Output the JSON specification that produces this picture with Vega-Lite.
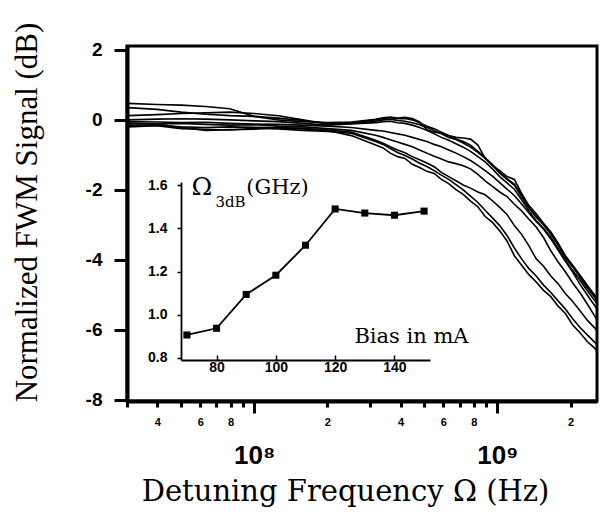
{
"$schema": "https://vega.github.io/schema/vega-lite/v6.json",
"width": 470, "height": 355,
"autosize": "none",
"padding": {"left": 127, "top": 46, "right": 5, "bottom": 115},
"background": "white",
"config": {"view": {"stroke": "black", "strokeWidth": 3}, "axis": {"grid": false, "domainColor": "black", "tickColor": "black", "labelColor": "black", "titleColor": "black"}},
"datasets": {
"curves": [
{"curve":"c1","freq":3.02e7,"db":-0.1},{"curve":"c1","freq":3.98e7,"db":-0.12},{"curve":"c1","freq":5.01e7,"db":-0.22},{"curve":"c1","freq":6.31e7,"db":-0.3},{"curve":"c1","freq":7.94e7,"db":-0.28},{"curve":"c1","freq":1.0e8,"db":-0.27},{"curve":"c1","freq":1.26e8,"db":-0.22},{"curve":"c1","freq":1.585e8,"db":-0.25},{"curve":"c1","freq":2.0e8,"db":-0.3},{"curve":"c1","freq":2.51e8,"db":-0.45},
{"curve":"c1","freq":3.16e8,"db":-0.72},{"curve":"c1","freq":3.39e8,"db":-0.8},{"curve":"c1","freq":3.63e8,"db":-0.95},{"curve":"c1","freq":3.89e8,"db":-1.05},{"curve":"c1","freq":4.17e8,"db":-1.1},{"curve":"c1","freq":4.47e8,"db":-1.27},{"curve":"c1","freq":4.79e8,"db":-1.36},{"curve":"c1","freq":5.13e8,"db":-1.47},{"curve":"c1","freq":5.5e8,"db":-1.53},{"curve":"c1","freq":5.89e8,"db":-1.7},
{"curve":"c1","freq":6.31e8,"db":-1.82},{"curve":"c1","freq":6.76e8,"db":-1.99},{"curve":"c1","freq":7.24e8,"db":-2.13},{"curve":"c1","freq":7.76e8,"db":-2.32},{"curve":"c1","freq":8.32e8,"db":-2.48},{"curve":"c1","freq":8.91e8,"db":-2.76},{"curve":"c1","freq":9.55e8,"db":-2.93},{"curve":"c1","freq":1.023e9,"db":-3.17},{"curve":"c1","freq":1.096e9,"db":-3.46},{"curve":"c1","freq":1.175e9,"db":-3.88},
{"curve":"c1","freq":1.259e9,"db":-4.15},{"curve":"c1","freq":1.349e9,"db":-4.42},{"curve":"c1","freq":1.445e9,"db":-4.63},{"curve":"c1","freq":1.549e9,"db":-4.87},{"curve":"c1","freq":1.66e9,"db":-5.05},{"curve":"c1","freq":1.778e9,"db":-5.32},{"curve":"c1","freq":1.905e9,"db":-5.53},{"curve":"c1","freq":2.042e9,"db":-5.86},{"curve":"c1","freq":2.188e9,"db":-6.08},{"curve":"c1","freq":2.344e9,"db":-6.33},{"curve":"c1","freq":2.512e9,"db":-6.52},{"curve":"c1","freq":2.57e9,"db":-6.62},
{"curve":"c2","freq":3.02e7,"db":-0.2},{"curve":"c2","freq":3.98e7,"db":-0.17},{"curve":"c2","freq":5.01e7,"db":-0.25},{"curve":"c2","freq":6.31e7,"db":-0.27},{"curve":"c2","freq":7.94e7,"db":-0.29},{"curve":"c2","freq":1.0e8,"db":-0.24},{"curve":"c2","freq":1.26e8,"db":-0.26},{"curve":"c2","freq":1.585e8,"db":-0.3},{"curve":"c2","freq":2.0e8,"db":-0.33},{"curve":"c2","freq":2.51e8,"db":-0.38},
{"curve":"c2","freq":3.16e8,"db":-0.62},{"curve":"c2","freq":3.39e8,"db":-0.7},{"curve":"c2","freq":3.63e8,"db":-0.82},{"curve":"c2","freq":3.89e8,"db":-0.93},{"curve":"c2","freq":4.17e8,"db":-1.02},{"curve":"c2","freq":4.47e8,"db":-1.12},{"curve":"c2","freq":4.79e8,"db":-1.24},{"curve":"c2","freq":5.13e8,"db":-1.33},{"curve":"c2","freq":5.5e8,"db":-1.45},{"curve":"c2","freq":5.89e8,"db":-1.58},
{"curve":"c2","freq":6.31e8,"db":-1.7},{"curve":"c2","freq":6.76e8,"db":-1.85},{"curve":"c2","freq":7.24e8,"db":-2.0},{"curve":"c2","freq":7.76e8,"db":-2.18},{"curve":"c2","freq":8.32e8,"db":-2.36},{"curve":"c2","freq":8.91e8,"db":-2.58},{"curve":"c2","freq":9.55e8,"db":-2.8},{"curve":"c2","freq":1.023e9,"db":-3.02},{"curve":"c2","freq":1.096e9,"db":-3.3},{"curve":"c2","freq":1.175e9,"db":-3.66},
{"curve":"c2","freq":1.259e9,"db":-3.97},{"curve":"c2","freq":1.349e9,"db":-4.25},{"curve":"c2","freq":1.445e9,"db":-4.46},{"curve":"c2","freq":1.549e9,"db":-4.72},{"curve":"c2","freq":1.66e9,"db":-4.93},{"curve":"c2","freq":1.778e9,"db":-5.17},{"curve":"c2","freq":1.905e9,"db":-5.4},{"curve":"c2","freq":2.042e9,"db":-5.68},{"curve":"c2","freq":2.188e9,"db":-5.93},{"curve":"c2","freq":2.344e9,"db":-6.14},{"curve":"c2","freq":2.512e9,"db":-6.35},{"curve":"c2","freq":2.57e9,"db":-6.42},
{"curve":"c3","freq":3.02e7,"db":-0.15},{"curve":"c3","freq":3.98e7,"db":-0.16},{"curve":"c3","freq":5.01e7,"db":-0.2},{"curve":"c3","freq":6.31e7,"db":-0.22},{"curve":"c3","freq":7.94e7,"db":-0.2},{"curve":"c3","freq":1.0e8,"db":-0.21},{"curve":"c3","freq":1.26e8,"db":-0.23},{"curve":"c3","freq":1.585e8,"db":-0.25},{"curve":"c3","freq":2.0e8,"db":-0.29},{"curve":"c3","freq":2.51e8,"db":-0.35},
{"curve":"c3","freq":3.16e8,"db":-0.58},{"curve":"c3","freq":3.39e8,"db":-0.67},{"curve":"c3","freq":3.63e8,"db":-0.77},{"curve":"c3","freq":3.89e8,"db":-0.86},{"curve":"c3","freq":4.17e8,"db":-0.94},{"curve":"c3","freq":4.47e8,"db":-1.05},{"curve":"c3","freq":4.79e8,"db":-1.14},{"curve":"c3","freq":5.13e8,"db":-1.23},{"curve":"c3","freq":5.5e8,"db":-1.34},{"curve":"c3","freq":5.89e8,"db":-1.5},
{"curve":"c3","freq":6.31e8,"db":-1.62},{"curve":"c3","freq":6.76e8,"db":-1.74},{"curve":"c3","freq":7.24e8,"db":-1.86},{"curve":"c3","freq":7.76e8,"db":-1.95},{"curve":"c3","freq":8.32e8,"db":-2.06},{"curve":"c3","freq":8.91e8,"db":-2.14},{"curve":"c3","freq":9.55e8,"db":-2.31},{"curve":"c3","freq":1.023e9,"db":-2.5},{"curve":"c3","freq":1.096e9,"db":-2.7},{"curve":"c3","freq":1.175e9,"db":-3.02},
{"curve":"c3","freq":1.259e9,"db":-3.27},{"curve":"c3","freq":1.349e9,"db":-3.6},{"curve":"c3","freq":1.445e9,"db":-3.97},{"curve":"c3","freq":1.549e9,"db":-4.18},{"curve":"c3","freq":1.66e9,"db":-4.46},{"curve":"c3","freq":1.778e9,"db":-4.68},{"curve":"c3","freq":1.905e9,"db":-4.96},{"curve":"c3","freq":2.042e9,"db":-5.19},{"curve":"c3","freq":2.188e9,"db":-5.45},{"curve":"c3","freq":2.344e9,"db":-5.72},{"curve":"c3","freq":2.512e9,"db":-5.94},{"curve":"c3","freq":2.57e9,"db":-6.03},
{"curve":"c4","freq":3.02e7,"db":-0.1},{"curve":"c4","freq":3.98e7,"db":-0.12},{"curve":"c4","freq":5.01e7,"db":-0.1},{"curve":"c4","freq":6.31e7,"db":-0.13},{"curve":"c4","freq":7.94e7,"db":-0.15},{"curve":"c4","freq":1.0e8,"db":-0.14},{"curve":"c4","freq":1.26e8,"db":-0.18},{"curve":"c4","freq":1.585e8,"db":-0.2},{"curve":"c4","freq":2.0e8,"db":-0.25},{"curve":"c4","freq":2.51e8,"db":-0.3},
{"curve":"c4","freq":3.16e8,"db":-0.44},{"curve":"c4","freq":3.39e8,"db":-0.5},{"curve":"c4","freq":3.63e8,"db":-0.57},{"curve":"c4","freq":3.89e8,"db":-0.63},{"curve":"c4","freq":4.17e8,"db":-0.7},{"curve":"c4","freq":4.47e8,"db":-0.77},{"curve":"c4","freq":4.79e8,"db":-0.86},{"curve":"c4","freq":5.13e8,"db":-0.95},{"curve":"c4","freq":5.5e8,"db":-1.04},{"curve":"c4","freq":5.89e8,"db":-1.12},
{"curve":"c4","freq":6.31e8,"db":-1.2},{"curve":"c4","freq":6.76e8,"db":-1.25},{"curve":"c4","freq":7.24e8,"db":-1.31},{"curve":"c4","freq":7.76e8,"db":-1.4},{"curve":"c4","freq":8.32e8,"db":-1.56},{"curve":"c4","freq":8.91e8,"db":-1.74},{"curve":"c4","freq":9.55e8,"db":-1.9},{"curve":"c4","freq":1.023e9,"db":-2.06},{"curve":"c4","freq":1.096e9,"db":-2.19},{"curve":"c4","freq":1.175e9,"db":-2.41},
{"curve":"c4","freq":1.259e9,"db":-2.6},{"curve":"c4","freq":1.349e9,"db":-2.84},{"curve":"c4","freq":1.445e9,"db":-3.06},{"curve":"c4","freq":1.549e9,"db":-3.36},{"curve":"c4","freq":1.66e9,"db":-3.74},{"curve":"c4","freq":1.778e9,"db":-4.06},{"curve":"c4","freq":1.905e9,"db":-4.34},{"curve":"c4","freq":2.042e9,"db":-4.66},{"curve":"c4","freq":2.188e9,"db":-4.94},{"curve":"c4","freq":2.344e9,"db":-5.26},{"curve":"c4","freq":2.512e9,"db":-5.6},{"curve":"c4","freq":2.57e9,"db":-5.72},
{"curve":"c5","freq":3.02e7,"db":-0.05},{"curve":"c5","freq":3.98e7,"db":-0.06},{"curve":"c5","freq":5.01e7,"db":-0.08},{"curve":"c5","freq":6.31e7,"db":-0.07},{"curve":"c5","freq":7.94e7,"db":-0.1},{"curve":"c5","freq":1.0e8,"db":-0.12},{"curve":"c5","freq":1.26e8,"db":-0.13},{"curve":"c5","freq":1.585e8,"db":-0.15},{"curve":"c5","freq":2.0e8,"db":-0.18},{"curve":"c5","freq":2.51e8,"db":-0.22},
{"curve":"c5","freq":3.16e8,"db":-0.3},{"curve":"c5","freq":3.39e8,"db":-0.32},{"curve":"c5","freq":3.63e8,"db":-0.36},{"curve":"c5","freq":3.89e8,"db":-0.4},{"curve":"c5","freq":4.17e8,"db":-0.44},{"curve":"c5","freq":4.47e8,"db":-0.5},{"curve":"c5","freq":4.79e8,"db":-0.56},{"curve":"c5","freq":5.13e8,"db":-0.62},{"curve":"c5","freq":5.5e8,"db":-0.7},{"curve":"c5","freq":5.89e8,"db":-0.77},
{"curve":"c5","freq":6.31e8,"db":-0.86},{"curve":"c5","freq":6.76e8,"db":-0.95},{"curve":"c5","freq":7.24e8,"db":-1.05},{"curve":"c5","freq":7.76e8,"db":-1.16},{"curve":"c5","freq":8.32e8,"db":-1.3},{"curve":"c5","freq":8.91e8,"db":-1.45},{"curve":"c5","freq":9.55e8,"db":-1.61},{"curve":"c5","freq":1.023e9,"db":-1.79},{"curve":"c5","freq":1.096e9,"db":-1.98},{"curve":"c5","freq":1.175e9,"db":-2.16},
{"curve":"c5","freq":1.259e9,"db":-2.4},{"curve":"c5","freq":1.349e9,"db":-2.66},{"curve":"c5","freq":1.445e9,"db":-2.9},{"curve":"c5","freq":1.549e9,"db":-3.12},{"curve":"c5","freq":1.66e9,"db":-3.4},{"curve":"c5","freq":1.778e9,"db":-3.72},{"curve":"c5","freq":1.905e9,"db":-4.04},{"curve":"c5","freq":2.042e9,"db":-4.35},{"curve":"c5","freq":2.188e9,"db":-4.7},{"curve":"c5","freq":2.344e9,"db":-5.0},{"curve":"c5","freq":2.512e9,"db":-5.3},{"curve":"c5","freq":2.57e9,"db":-5.4},
{"curve":"c6","freq":3.02e7,"db":0.0},{"curve":"c6","freq":3.98e7,"db":0.02},{"curve":"c6","freq":5.01e7,"db":0.03},{"curve":"c6","freq":6.31e7,"db":0.02},{"curve":"c6","freq":7.94e7,"db":0.0},{"curve":"c6","freq":1.0e8,"db":-0.03},{"curve":"c6","freq":1.26e8,"db":-0.05},{"curve":"c6","freq":1.585e8,"db":-0.1},{"curve":"c6","freq":2.0e8,"db":-0.15},{"curve":"c6","freq":2.51e8,"db":-0.12},
{"curve":"c6","freq":3.16e8,"db":-0.08},{"curve":"c6","freq":3.39e8,"db":-0.05},{"curve":"c6","freq":3.63e8,"db":-0.04},{"curve":"c6","freq":3.89e8,"db":-0.08},{"curve":"c6","freq":4.17e8,"db":-0.1},{"curve":"c6","freq":4.47e8,"db":-0.15},{"curve":"c6","freq":4.79e8,"db":-0.22},{"curve":"c6","freq":5.13e8,"db":-0.3},{"curve":"c6","freq":5.5e8,"db":-0.4},{"curve":"c6","freq":5.89e8,"db":-0.5},
{"curve":"c6","freq":6.31e8,"db":-0.58},{"curve":"c6","freq":6.76e8,"db":-0.68},{"curve":"c6","freq":7.24e8,"db":-0.78},{"curve":"c6","freq":7.76e8,"db":-0.9},{"curve":"c6","freq":8.32e8,"db":-1.05},{"curve":"c6","freq":8.91e8,"db":-1.2},{"curve":"c6","freq":9.55e8,"db":-1.4},{"curve":"c6","freq":1.023e9,"db":-1.62},{"curve":"c6","freq":1.096e9,"db":-1.8},{"curve":"c6","freq":1.175e9,"db":-1.98},
{"curve":"c6","freq":1.259e9,"db":-2.28},{"curve":"c6","freq":1.349e9,"db":-2.6},{"curve":"c6","freq":1.445e9,"db":-2.88},{"curve":"c6","freq":1.549e9,"db":-3.1},{"curve":"c6","freq":1.66e9,"db":-3.35},{"curve":"c6","freq":1.778e9,"db":-3.68},{"curve":"c6","freq":1.905e9,"db":-4.02},{"curve":"c6","freq":2.042e9,"db":-4.3},{"curve":"c6","freq":2.188e9,"db":-4.58},{"curve":"c6","freq":2.344e9,"db":-4.88},{"curve":"c6","freq":2.512e9,"db":-5.15},{"curve":"c6","freq":2.57e9,"db":-5.25},
{"curve":"c7","freq":3.02e7,"db":0.12},{"curve":"c7","freq":3.98e7,"db":0.15},{"curve":"c7","freq":5.01e7,"db":0.18},{"curve":"c7","freq":6.31e7,"db":0.2},{"curve":"c7","freq":7.94e7,"db":0.22},{"curve":"c7","freq":1.0e8,"db":0.18},{"curve":"c7","freq":1.26e8,"db":0.12},{"curve":"c7","freq":1.585e8,"db":0.0},{"curve":"c7","freq":2.0e8,"db":-0.12},{"curve":"c7","freq":2.51e8,"db":-0.1},
{"curve":"c7","freq":3.16e8,"db":-0.04},{"curve":"c7","freq":3.39e8,"db":0.0},{"curve":"c7","freq":3.63e8,"db":0.02},{"curve":"c7","freq":3.89e8,"db":-0.02},{"curve":"c7","freq":4.17e8,"db":-0.04},{"curve":"c7","freq":4.47e8,"db":-0.08},{"curve":"c7","freq":4.79e8,"db":-0.14},{"curve":"c7","freq":5.13e8,"db":-0.22},{"curve":"c7","freq":5.5e8,"db":-0.3},{"curve":"c7","freq":5.89e8,"db":-0.4},
{"curve":"c7","freq":6.31e8,"db":-0.5},{"curve":"c7","freq":6.76e8,"db":-0.56},{"curve":"c7","freq":7.24e8,"db":-0.66},{"curve":"c7","freq":7.76e8,"db":-0.78},{"curve":"c7","freq":8.32e8,"db":-0.93},{"curve":"c7","freq":8.91e8,"db":-1.1},{"curve":"c7","freq":9.55e8,"db":-1.3},{"curve":"c7","freq":1.023e9,"db":-1.52},{"curve":"c7","freq":1.096e9,"db":-1.7},{"curve":"c7","freq":1.175e9,"db":-1.86},
{"curve":"c7","freq":1.259e9,"db":-2.2},{"curve":"c7","freq":1.349e9,"db":-2.52},{"curve":"c7","freq":1.445e9,"db":-2.78},{"curve":"c7","freq":1.549e9,"db":-3.0},{"curve":"c7","freq":1.66e9,"db":-3.26},{"curve":"c7","freq":1.778e9,"db":-3.58},{"curve":"c7","freq":1.905e9,"db":-3.95},{"curve":"c7","freq":2.042e9,"db":-4.2},{"curve":"c7","freq":2.188e9,"db":-4.5},{"curve":"c7","freq":2.344e9,"db":-4.8},{"curve":"c7","freq":2.512e9,"db":-5.06},{"curve":"c7","freq":2.57e9,"db":-5.16},
{"curve":"c8","freq":3.02e7,"db":0.35},{"curve":"c8","freq":3.98e7,"db":0.3},{"curve":"c8","freq":5.01e7,"db":0.22},{"curve":"c8","freq":6.31e7,"db":0.16},{"curve":"c8","freq":7.94e7,"db":0.12},{"curve":"c8","freq":1.0e8,"db":0.1},{"curve":"c8","freq":1.26e8,"db":0.05},{"curve":"c8","freq":1.585e8,"db":-0.02},{"curve":"c8","freq":2.0e8,"db":-0.1},{"curve":"c8","freq":2.51e8,"db":-0.08},
{"curve":"c8","freq":3.16e8,"db":0.0},{"curve":"c8","freq":3.39e8,"db":0.04},{"curve":"c8","freq":3.63e8,"db":0.06},{"curve":"c8","freq":3.89e8,"db":0.03},{"curve":"c8","freq":4.17e8,"db":0.04},{"curve":"c8","freq":4.47e8,"db":0.0},{"curve":"c8","freq":4.79e8,"db":-0.08},{"curve":"c8","freq":5.13e8,"db":-0.18},{"curve":"c8","freq":5.5e8,"db":-0.25},{"curve":"c8","freq":5.89e8,"db":-0.35},
{"curve":"c8","freq":6.31e8,"db":-0.45},{"curve":"c8","freq":6.76e8,"db":-0.55},{"curve":"c8","freq":7.24e8,"db":-0.62},{"curve":"c8","freq":7.76e8,"db":-0.72},{"curve":"c8","freq":8.32e8,"db":-0.9},{"curve":"c8","freq":8.91e8,"db":-1.08},{"curve":"c8","freq":9.55e8,"db":-1.28},{"curve":"c8","freq":1.023e9,"db":-1.5},{"curve":"c8","freq":1.096e9,"db":-1.68},{"curve":"c8","freq":1.175e9,"db":-1.83},
{"curve":"c8","freq":1.259e9,"db":-2.15},{"curve":"c8","freq":1.349e9,"db":-2.5},{"curve":"c8","freq":1.445e9,"db":-2.75},{"curve":"c8","freq":1.549e9,"db":-2.98},{"curve":"c8","freq":1.66e9,"db":-3.22},{"curve":"c8","freq":1.778e9,"db":-3.55},{"curve":"c8","freq":1.905e9,"db":-3.9},{"curve":"c8","freq":2.042e9,"db":-4.18},{"curve":"c8","freq":2.188e9,"db":-4.46},{"curve":"c8","freq":2.344e9,"db":-4.76},{"curve":"c8","freq":2.512e9,"db":-5.02},{"curve":"c8","freq":2.57e9,"db":-5.1},
{"curve":"c9","freq":3.02e7,"db":0.47},{"curve":"c9","freq":3.98e7,"db":0.44},{"curve":"c9","freq":5.01e7,"db":0.42},{"curve":"c9","freq":6.31e7,"db":0.38},{"curve":"c9","freq":7.94e7,"db":0.32},{"curve":"c9","freq":1.0e8,"db":0.1},{"curve":"c9","freq":1.26e8,"db":0.0},{"curve":"c9","freq":1.585e8,"db":-0.05},{"curve":"c9","freq":2.0e8,"db":-0.08},{"curve":"c9","freq":2.51e8,"db":-0.06},
{"curve":"c9","freq":3.16e8,"db":0.02},{"curve":"c9","freq":3.39e8,"db":0.06},{"curve":"c9","freq":3.63e8,"db":0.08},{"curve":"c9","freq":3.89e8,"db":0.05},{"curve":"c9","freq":4.17e8,"db":0.07},{"curve":"c9","freq":4.47e8,"db":0.04},{"curve":"c9","freq":4.79e8,"db":-0.06},{"curve":"c9","freq":5.13e8,"db":-0.28},{"curve":"c9","freq":5.5e8,"db":-0.35},{"curve":"c9","freq":5.89e8,"db":-0.38},
{"curve":"c9","freq":6.31e8,"db":-0.45},{"curve":"c9","freq":6.76e8,"db":-0.5},{"curve":"c9","freq":7.24e8,"db":-0.52},{"curve":"c9","freq":7.76e8,"db":-0.55},{"curve":"c9","freq":8.32e8,"db":-0.72},{"curve":"c9","freq":8.91e8,"db":-1.1},{"curve":"c9","freq":9.55e8,"db":-1.3},{"curve":"c9","freq":1.023e9,"db":-1.45},{"curve":"c9","freq":1.096e9,"db":-1.62},{"curve":"c9","freq":1.175e9,"db":-1.7},
{"curve":"c9","freq":1.259e9,"db":-2.1},{"curve":"c9","freq":1.349e9,"db":-2.45},{"curve":"c9","freq":1.445e9,"db":-2.68},{"curve":"c9","freq":1.549e9,"db":-2.95},{"curve":"c9","freq":1.66e9,"db":-3.2},{"curve":"c9","freq":1.778e9,"db":-3.52},{"curve":"c9","freq":1.905e9,"db":-3.88},{"curve":"c9","freq":2.042e9,"db":-4.15},{"curve":"c9","freq":2.188e9,"db":-4.44},{"curve":"c9","freq":2.344e9,"db":-4.72},{"curve":"c9","freq":2.512e9,"db":-5.0},{"curve":"c9","freq":2.57e9,"db":-5.08}
],
"inset": [
{"bias":70,"ghz":0.906},{"bias":80,"ghz":0.937},{"bias":90,"ghz":1.094},{"bias":100,"ghz":1.183},{"bias":110,"ghz":1.322},{"bias":120,"ghz":1.49},{"bias":130,"ghz":1.471},{"bias":140,"ghz":1.461},{"bias":150,"ghz":1.48}
],
"ann": [
{"k":"om","t":"Ω","bias":71.5,"ghz":1.555},
{"k":"sub","t":"3dB","bias":79.6,"ghz":1.499},
{"k":"unit","t":"(GHz)","bias":90.0,"ghz":1.559},
{"k":"bias","t":"Bias in mA","bias":126.5,"ghz":0.869}
]
},
"layer": [
{
"data": {"name": "curves"},
"mark": {"type": "line", "color": "black", "strokeWidth": 1.6},
"encoding": {
"x": {"field": "freq", "type": "quantitative",
 "scale": {"type": "log", "domain": [3.0e7, 2.57e9], "nice": false},
 "axis": {"orient": "bottom",
  "values": [3e7,4e7,5e7,6e7,7e7,8e7,9e7,1e8,2e8,3e8,4e8,5e8,6e8,7e8,8e8,9e8,1e9,2e9],
  "labelExpr": "datum.value == 1e8 ? '10⁸' : datum.value == 1e9 ? '10⁹' : (round(datum.value / pow(10, floor(log(datum.value) / LN10 + 1e-6))) % 2 == 0 ? '' + round(datum.value / pow(10, floor(log(datum.value) / LN10 + 1e-6))) : '')",
  "labelFont": "Liberation Sans", "labelFontWeight": "bold",
  "labelFontSize": {"condition": {"test": "datum.value == 1e8 || datum.value == 1e9", "value": 26}, "value": 11},
  "tickSize": {"condition": {"test": "datum.value == 1e8 || datum.value == 1e9", "value": 12}, "value": 6},
  "labelPadding": {"condition": {"test": "datum.value == 1e8 || datum.value == 1e9", "value": 29}, "value": 9},
  "tickWidth": 3, "domainWidth": 4, "labelOverlap": false, "labelFlush": false, "labelBound": false,
  "title": "Detuning Frequency Ω (Hz)", "titleFont": "DejaVu Serif", "titleFontWeight": "normal", "titleFontSize": 29,
  "titleX": 218, "titleY": 99, "titleBaseline": "alphabetic", "titleAlign": "center"}},
"y": {"field": "db", "type": "quantitative",
 "scale": {"domain": [-8.03, 2.11], "nice": false, "zero": false},
 "axis": {"orient": "left", "values": [-8,-6,-4,-2,0,2],
  "labelExpr": "datum.value < 0 ? '-' + abs(datum.value) : '' + datum.value",
  "labelFont": "Liberation Sans", "labelFontWeight": "bold", "labelFontSize": 19,
  "tickSize": 13, "tickWidth": 3, "domainWidth": 4, "labelPadding": 12, "labelOverlap": false, "labelFlush": false,
  "title": "Normalized FWM Signal (dB)", "titleFont": "Liberation Serif", "titleFontWeight": "normal", "titleFontSize": 31,
  "titleX": -91, "titleY": 166, "titleAngle": -90, "titleBaseline": "alphabetic", "titleAlign": "center"}},
"detail": {"field": "curve"}
}
},
{
"encoding": {
"x": {"field": "bias", "type": "quantitative",
 "scale": {"domain": [68, 152], "range": [54, 303], "nice": false, "zero": false},
 "axis": {"orient": "bottom", "offset": -41, "values": [80,100,120,140], "tickSize": -5, "tickWidth": 1.5, "domainWidth": 1.8,
  "labelPadding": 5, "labelFont": "Liberation Sans", "labelFontWeight": "bold", "labelFontSize": 14, "labelFlush": false, "title": null}},
"y": {"field": "ghz", "type": "quantitative",
 "scale": {"domain": [0.79, 1.615], "range": [314, 136], "nice": false, "zero": false},
 "axis": {"orient": "left", "offset": -54, "values": [0.8,1.0,1.2,1.4,1.6], "format": ".1f", "tickSize": 4, "tickWidth": 1.5, "domainWidth": 1.8,
  "labelPadding": 10, "labelFont": "Liberation Sans", "labelFontWeight": "bold", "labelFontSize": 14, "labelFlush": false, "title": null}}
},
"layer": [
{"data": {"name": "inset"}, "mark": {"type": "line", "color": "black", "strokeWidth": 1.8}},
{"data": {"name": "inset"}, "mark": {"type": "point", "shape": "square", "filled": true, "color": "black", "size": 50, "opacity": 1}},
{"data": {"name": "ann"}, "transform": [{"filter": "datum.k == 'om'"}], "mark": {"type": "text", "font": "DejaVu Serif", "fontSize": 25, "align": "left", "baseline": "alphabetic", "color": "black"}, "encoding": {"text": {"field": "t"}}},
{"data": {"name": "ann"}, "transform": [{"filter": "datum.k == 'sub'"}], "mark": {"type": "text", "font": "DejaVu Serif", "fontSize": 15, "align": "left", "baseline": "alphabetic", "color": "black"}, "encoding": {"text": {"field": "t"}}},
{"data": {"name": "ann"}, "transform": [{"filter": "datum.k == 'unit'"}], "mark": {"type": "text", "font": "DejaVu Serif", "fontSize": 21, "align": "left", "baseline": "alphabetic", "color": "black"}, "encoding": {"text": {"field": "t"}}},
{"data": {"name": "ann"}, "transform": [{"filter": "datum.k == 'bias'"}], "mark": {"type": "text", "font": "DejaVu Serif", "fontSize": 21, "align": "left", "baseline": "alphabetic", "color": "black"}, "encoding": {"text": {"field": "t"}}}
]
}
],
"resolve": {"scale": {"x": "independent", "y": "independent"}}
}
